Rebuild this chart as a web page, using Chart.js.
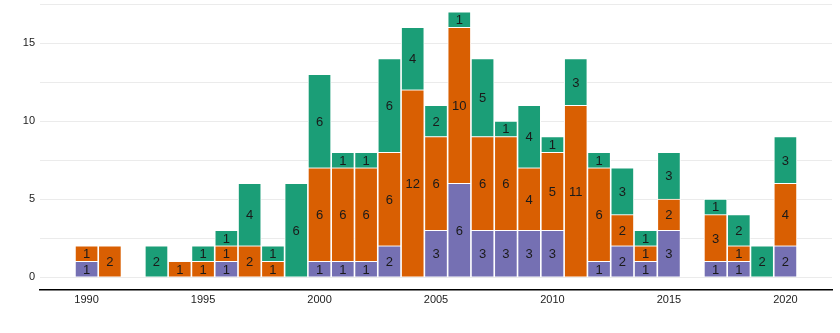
<!DOCTYPE html>
<html lang="en">
<head>
  <meta charset="UTF-8">
  <title>Stacked counts by year</title>
  <script src="https://cdn.jsdelivr.net/npm/chart.js"></script>
  <style>
    html, body { margin: 0; padding: 0; background: #fff; }
    #wrap { width: 840px; height: 333px; }
  </style>
</head>
<body>
  <div id="wrap"><canvas id="chart"></canvas></div>

  <script>
    const years  = [1990,1991,1993,1994,1995,1996,1997,1998,1999,2000,2001,2002,2003,2004,2005,2006,2007,2008,2009,2010,2011,2012,2013,2014,2015,2017,2018,2019,2020];
    const purple = [1,0,0,0,0,1,0,0,0,1,1,1,2,0,3,6,3,3,3,3,0,1,2,1,3,1,1,0,2];
    const orange = [1,2,0,1,1,1,2,1,0,6,6,6,6,12,6,10,6,6,4,5,11,6,2,1,2,3,1,0,4];
    const green  = [0,0,2,0,1,1,4,1,6,6,1,1,6,4,2,1,5,1,4,1,3,1,3,1,3,1,2,2,3];
    const yTicks = [0, 2.5, 5, 7.5, 10, 12.5, 15, 17.5];

    const toPoints = arr => years.map((y, i) => ({ x: y, y: arr[i] || null }));

    // write each segment's value in its middle
    const segmentLabels = {
      id: 'segmentLabels',
      afterDatasetsDraw(chart) {
        const ctx = chart.ctx;
        ctx.save();
        ctx.font = '13px "Liberation Sans", Arial, sans-serif';
        ctx.fillStyle = '#1a1a1a';
        ctx.textAlign = 'center';
        ctx.textBaseline = 'middle';
        chart.data.datasets.forEach((ds, di) => {
          chart.getDatasetMeta(di).data.forEach((bar, i) => {
            const v = ds.data[i].y;
            if (!v) return;
            ctx.fillText(v, bar.x, (bar.y + bar.base) / 2 + 1);
          });
        });
        ctx.restore();
      }
    };

    const common = {
      borderColor: '#fff',
      borderWidth: { top: 1, left: 1, right: 1, bottom: 0 },
      borderSkipped: false,
      barThickness: 23
    };

    new Chart(document.getElementById('chart'), {
      type: 'bar',
      data: {
        datasets: [
          { label: 'a', data: toPoints(purple), backgroundColor: '#7570b3', ...common },
          { label: 'b', data: toPoints(orange), backgroundColor: '#d95f02', ...common },
          { label: 'c', data: toPoints(green),  backgroundColor: '#1b9e77', ...common }
        ]
      },
      options: {
        responsive: true,
        maintainAspectRatio: false,
        animation: false,
        layout: { padding: { top: 4, right: 8, left: 0, bottom: 0 } },
        plugins: { legend: { display: false }, tooltip: { enabled: false } },
        scales: {
          x: {
            type: 'linear',
            stacked: true,
            offset: false,
            min: 1988,
            max: 2022,
            grid: { display: false, drawTicks: false },
            border: { display: true, color: '#000', width: 1.5 },
            ticks: {
              stepSize: 5,
              padding: 3,
              color: '#222',
              font: { family: '"Liberation Sans", Arial, sans-serif', size: 11 },
              callback: v => (v % 5 === 0 && v >= 1990 && v <= 2020) ? String(v) : ''
            },
            afterFit: s => { s.height = 43; s.paddingLeft = 0; s.paddingRight = 0; }
          },
          y: {
            stacked: true,
            min: -0.83,
            max: 17.5,
            grid: { color: '#ebebeb', lineWidth: 1, drawTicks: false },
            border: { display: false },
            afterBuildTicks: s => { s.ticks = yTicks.map(v => ({ value: v })); },
            ticks: {
              padding: 5,
              color: '#222',
              font: { family: '"Liberation Sans", Arial, sans-serif', size: 11 },
              callback: v => (v % 5 === 0) ? String(v) : ''
            },
            afterFit: s => { s.width = 40; s.paddingTop = 0; s.paddingBottom = 0; }
          }
        }
      },
      plugins: [segmentLabels]
    });
  </script>
</body>
</html>
